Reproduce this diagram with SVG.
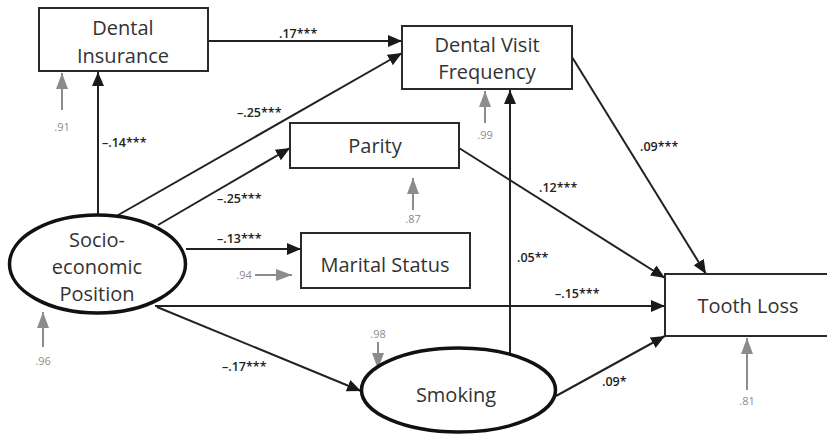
<svg xmlns="http://www.w3.org/2000/svg" width="827" height="434" viewBox="0 0 827 434">
<defs>
<marker id="ab" markerUnits="userSpaceOnUse" markerWidth="14" markerHeight="12" refX="14" refY="6" orient="auto"><path d="M0,0 L14,6 L0,12 z" fill="#1a1a1a"/></marker>
<marker id="ag" markerUnits="userSpaceOnUse" markerWidth="16" markerHeight="12" refX="16" refY="6" orient="auto"><path d="M0,0 L16,6 L0,12 z" fill="#8c8c8c"/></marker>
</defs>
<style>
.box{fill:#fff;stroke:#2a2a2a;stroke-width:2}
.ell{fill:#fff;stroke:#111;stroke-width:3.5}
.nt{font-family:"Open Sans","Liberation Sans",sans-serif;font-size:20px;fill:#333;text-anchor:middle}
.c{fill:none;stroke:#222;stroke-width:2;marker-end:url(#ab)}
.g{fill:none;stroke:#8c8c8c;stroke-width:2;marker-end:url(#ag)}
.cl{font-family:"Open Sans","Liberation Sans",sans-serif;font-size:12.5px;font-weight:600;fill:#222}
.gl{font-family:"Open Sans","Liberation Sans",sans-serif;font-size:11px;fill:#8c8c8c;text-anchor:middle}
</style>
<rect width="827" height="434" fill="#fff"/>
<g id="connectors">
<path class="c" d="M98,215 L98,72"/>
<path class="c" d="M208,41 L402,41"/>
<path class="c" d="M113,218 L402,53"/>
<path class="c" d="M158,225 L290,148"/>
<path class="c" d="M186,249 L301,249"/>
<path class="c" d="M155,306 L665,306"/>
<path class="c" d="M157,307 L361,391"/>
<path class="c" d="M510,357 L510,90"/>
<path class="c" d="M556,396 L665,336"/>
<path class="c" d="M459,148 L665,278"/>
<path class="c" d="M572,57 L706,274"/>
<path class="g" d="M62,110 L62,73"/>
<path class="g" d="M485,123 L485,91"/>
<path class="g" d="M413,210 L413,178"/>
<path class="g" d="M255,275 L292,275"/>
<path class="g" d="M43,347 L43,312"/>
<path class="g" d="M378,342 L378,369"/>
<path class="g" d="M747,390 L747,338"/>
<text class="cl" x="279" y="38">.17***</text>
<text class="cl" x="102" y="147">–.14***</text>
<text class="cl" x="237" y="117">–.25***</text>
<text class="cl" x="217" y="203">–.25***</text>
<text class="cl" x="217" y="243">–.13***</text>
<text class="cl" x="555" y="298">–.15***</text>
<text class="cl" x="222" y="371">–.17***</text>
<text class="cl" x="517" y="262">.05**</text>
<text class="cl" x="602" y="386">.09*</text>
<text class="cl" x="539" y="192">.12***</text>
<text class="cl" x="640" y="151">.09***</text>
<text class="gl" x="62" y="131">.91</text>
<text class="gl" x="485" y="139">.99</text>
<text class="gl" x="413" y="223">.87</text>
<text class="gl" x="244" y="279">.94</text>
<text class="gl" x="43" y="365">.96</text>
<text class="gl" x="378" y="338">.98</text>
<text class="gl" x="747" y="405">.81</text>
</g>
<g id="dental-insurance">
<rect class="box" x="39" y="8" width="169" height="63"/>
<text class="nt" x="123" y="35">Dental</text>
<text class="nt" x="123" y="63">Insurance</text>
</g>
<g id="dental-visit-frequency">
<rect class="box" x="402" y="26" width="170" height="63"/>
<text class="nt" x="487" y="52">Dental Visit</text>
<text class="nt" x="487" y="79">Frequency</text>
</g>
<g id="parity">
<rect class="box" x="290" y="123" width="169" height="45"/>
<text class="nt" x="375" y="153">Parity</text>
</g>
<g id="marital-status">
<rect class="box" x="301" y="233" width="169" height="55"/>
<text class="nt" x="385" y="272">Marital Status</text>
</g>
<g id="tooth-loss">
<rect class="box" x="665" y="274" width="180" height="62"/>
<text class="nt" x="748" y="313">Tooth Loss</text>
</g>
<g id="socioeconomic-position">
<ellipse class="ell" cx="97.5" cy="264" rx="88" ry="49"/>
<text class="nt" x="97" y="247">Socio-</text>
<text class="nt" x="97" y="274">economic</text>
<text class="nt" x="97" y="301">Position</text>
</g>
<g id="smoking">
<ellipse class="ell" cx="458.5" cy="390" rx="97" ry="42"/>
<text class="nt" x="456" y="402">Smoking</text>
</g>
</svg>
